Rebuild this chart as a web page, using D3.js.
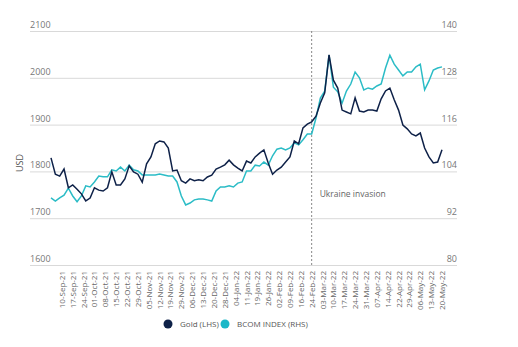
<!DOCTYPE html>
<html lang="en">
<head>
    <meta charset="utf-8">
    <title>Gold vs BCOM</title>
    <script type="text/javascript" src="https://cdnjs.cloudflare.com/ajax/libs/d3/7.8.5/d3.min.js"></script>
    <style type="text/css">
        body { margin: 0; background: #fff; }
        svg text { font-family: "Open Sans", sans-serif; }
    </style>
</head>
<body>
<script type="text/javascript">

// trading day labels, one every 5 trading days
var xLabels = ["10-Sep-21","17-Sep-21","24-Sep-21","01-Oct-21","08-Oct-21","15-Oct-21","22-Oct-21","29-Oct-21",
    "05-Nov-21","12-Nov-21","19-Nov-21","29-Nov-21","06-Dec-21","13-Dec-21","20-Dec-21","28-Dec-21",
    "04-Jan-22","11-Jan-22","19-Jan-22","26-Jan-22","02-Feb-22","09-Feb-22","16-Feb-22","24-Feb-22",
    "03-Mar-22","10-Mar-22","17-Mar-22","24-Mar-22","31-Mar-22","07-Apr-22","14-Apr-22","22-Apr-22",
    "29-Apr-22","06-May-22","13-May-22","20-May-22"];

// values read every 2 trading days
var gold = [1829,1794,1790,1805,1765,1771,1762,1752,1737,1743,
    1765,1760,1758,1765,1799,1771,1771,1784,1812,1799,
    1794,1777,1816,1831,1859,1865,1863,1850,1801,1803,
    1780,1775,1784,1780,1782,1780,1788,1792,1805,1809,
    1814,1824,1814,1807,1801,1822,1818,1831,1839,1846,
    1818,1794,1803,1809,1820,1831,1865,1859,1893,1901,
    1906,1918,1946,1968,2049,1995,1978,1931,1927,1923,
    1957,1929,1927,1931,1931,1929,1955,1972,1978,1953,
    1931,1899,1891,1880,1876,1882,1850,1831,1818,1820,1846];

var bcom = [97.2,96.4,97.2,97.9,99.7,97.7,96.2,97.7,100.3,100.0,
    101.3,102.8,102.6,102.6,104.4,104.1,105.1,104.1,105.6,104.4,
    104.1,103.1,103.1,103.1,103.1,103.3,103.1,102.8,102.8,101.3,
    97.7,95.4,95.9,96.7,96.9,96.9,96.7,96.4,99.0,100.0,
    100.0,100.3,100.0,101.0,101.3,104.1,104.1,105.6,105.4,106.4,
    105.6,108.0,109.7,110.0,109.5,110.0,111.3,110.8,112.1,113.6,
    113.6,117.7,122.8,124.6,133.8,125.6,124.4,121.5,124.6,126.4,
    129.5,128.0,124.9,125.4,125.1,125.9,126.4,130.5,133.8,131.5,
    130.0,128.5,129.5,129.5,130.8,131.5,124.9,127.2,130.0,130.5,130.8];

var leftTicks = [1600,1700,1800,1900,2000,2100];
var rightTicks = [80,92,104,116,128,140];

var w = 518, h = 347;
var x0 = 51, x1 = 442, yTop = 31, yBot = 265;

var svg = d3.select("body").append("svg")
    .attr("width", w)
    .attr("height", h);

var x = d3.scaleLinear().domain([0, 180]).range([x0, x1]);
var yL = d3.scaleLinear().domain([1600, 2100]).range([yBot, yTop]);
var yR = d3.scaleLinear().domain([80, 140]).range([yBot, yTop]);

// gridlines
svg.selectAll("line.grid")
    .data(leftTicks)
    .enter()
    .append("line")
    .attr("class", "grid")
    .attr("x1", 30).attr("x2", 457)
    .attr("y1", function(d){ return yL(d) + 0.5; })
    .attr("y2", function(d){ return yL(d) + 0.5; })
    .attr("stroke", "#d9d9d9")
    .attr("stroke-width", 1);

// left labels sit above the gridline
svg.selectAll("text.lt")
    .data(leftTicks)
    .enter()
    .append("text")
    .attr("class", "lt")
    .attr("x", 30)
    .attr("y", function(d){ return yL(d) - 3; })
    .attr("font-size", "9px")
    .attr("fill", "#777")
    .text(function(d){ return d; });

svg.selectAll("text.rt")
    .data(rightTicks)
    .enter()
    .append("text")
    .attr("class", "rt")
    .attr("x", 457)
    .attr("y", function(d){ return yR(d) - 3; })
    .attr("text-anchor", "end")
    .attr("font-size", "9px")
    .attr("fill", "#777")
    .text(function(d){ return d; });

svg.append("text")
    .attr("transform", "translate(23,163) rotate(-90)")
    .attr("text-anchor", "middle")
    .attr("font-size", "9px")
    .attr("fill", "#555")
    .text("USD");

// x labels, rotated
svg.selectAll("text.xl")
    .data(xLabels)
    .enter()
    .append("text")
    .attr("class", "xl")
    .attr("transform", function(d, i){
        return "translate(" + (x(5 + 5 * i) + 3) + ",271) rotate(-90)";
    })
    .attr("text-anchor", "end")
    .attr("font-size", "8px")
    .attr("fill", "#666")
    .text(function(d){ return d; });

// invasion marker
var tInv = 5 + 5 * xLabels.indexOf("24-Feb-22");
svg.append("line")
    .attr("x1", x(tInv)).attr("x2", x(tInv))
    .attr("y1", yTop).attr("y2", yBot)
    .attr("stroke", "#888")
    .attr("stroke-width", 1)
    .attr("stroke-dasharray", "2,2");

svg.append("text")
    .attr("x", x(tInv) + 8)
    .attr("y", 197)
    .attr("font-size", "8.5px")
    .attr("fill", "#666")
    .text("Ukraine invasion");

var goldLine = d3.line()
    .x(function(d, i){ return x(i * 2); })
    .y(function(d){ return yL(d); });

var bcomLine = d3.line()
    .x(function(d, i){ return x(i * 2); })
    .y(function(d){ return yR(d); });

svg.append("path")
    .datum(bcom)
    .attr("d", bcomLine)
    .attr("fill", "none")
    .attr("stroke", "#2bbcc6")
    .attr("stroke-width", 1.5);

svg.append("path")
    .datum(gold)
    .attr("d", goldLine)
    .attr("fill", "none")
    .attr("stroke", "#0e2148")
    .attr("stroke-width", 1.5);

// legend
var legend = [{name: "Gold (LHS)", color: "#0e2148", cx: 168},
              {name: "BCOM INDEX (RHS)", color: "#1bb8c8", cx: 225}];
var lg = svg.selectAll("g.leg")
    .data(legend)
    .enter()
    .append("g")
    .attr("class", "leg");
lg.append("circle")
    .attr("cx", function(d){ return d.cx; })
    .attr("cy", 324)
    .attr("r", 4.5)
    .attr("fill", function(d){ return d.color; });
lg.append("text")
    .attr("x", function(d){ return d.cx + 12; })
    .attr("y", 327)
    .attr("font-size", "8px")
    .attr("fill", "#555")
    .text(function(d){ return d.name; });

</script>
</body>
</html>
